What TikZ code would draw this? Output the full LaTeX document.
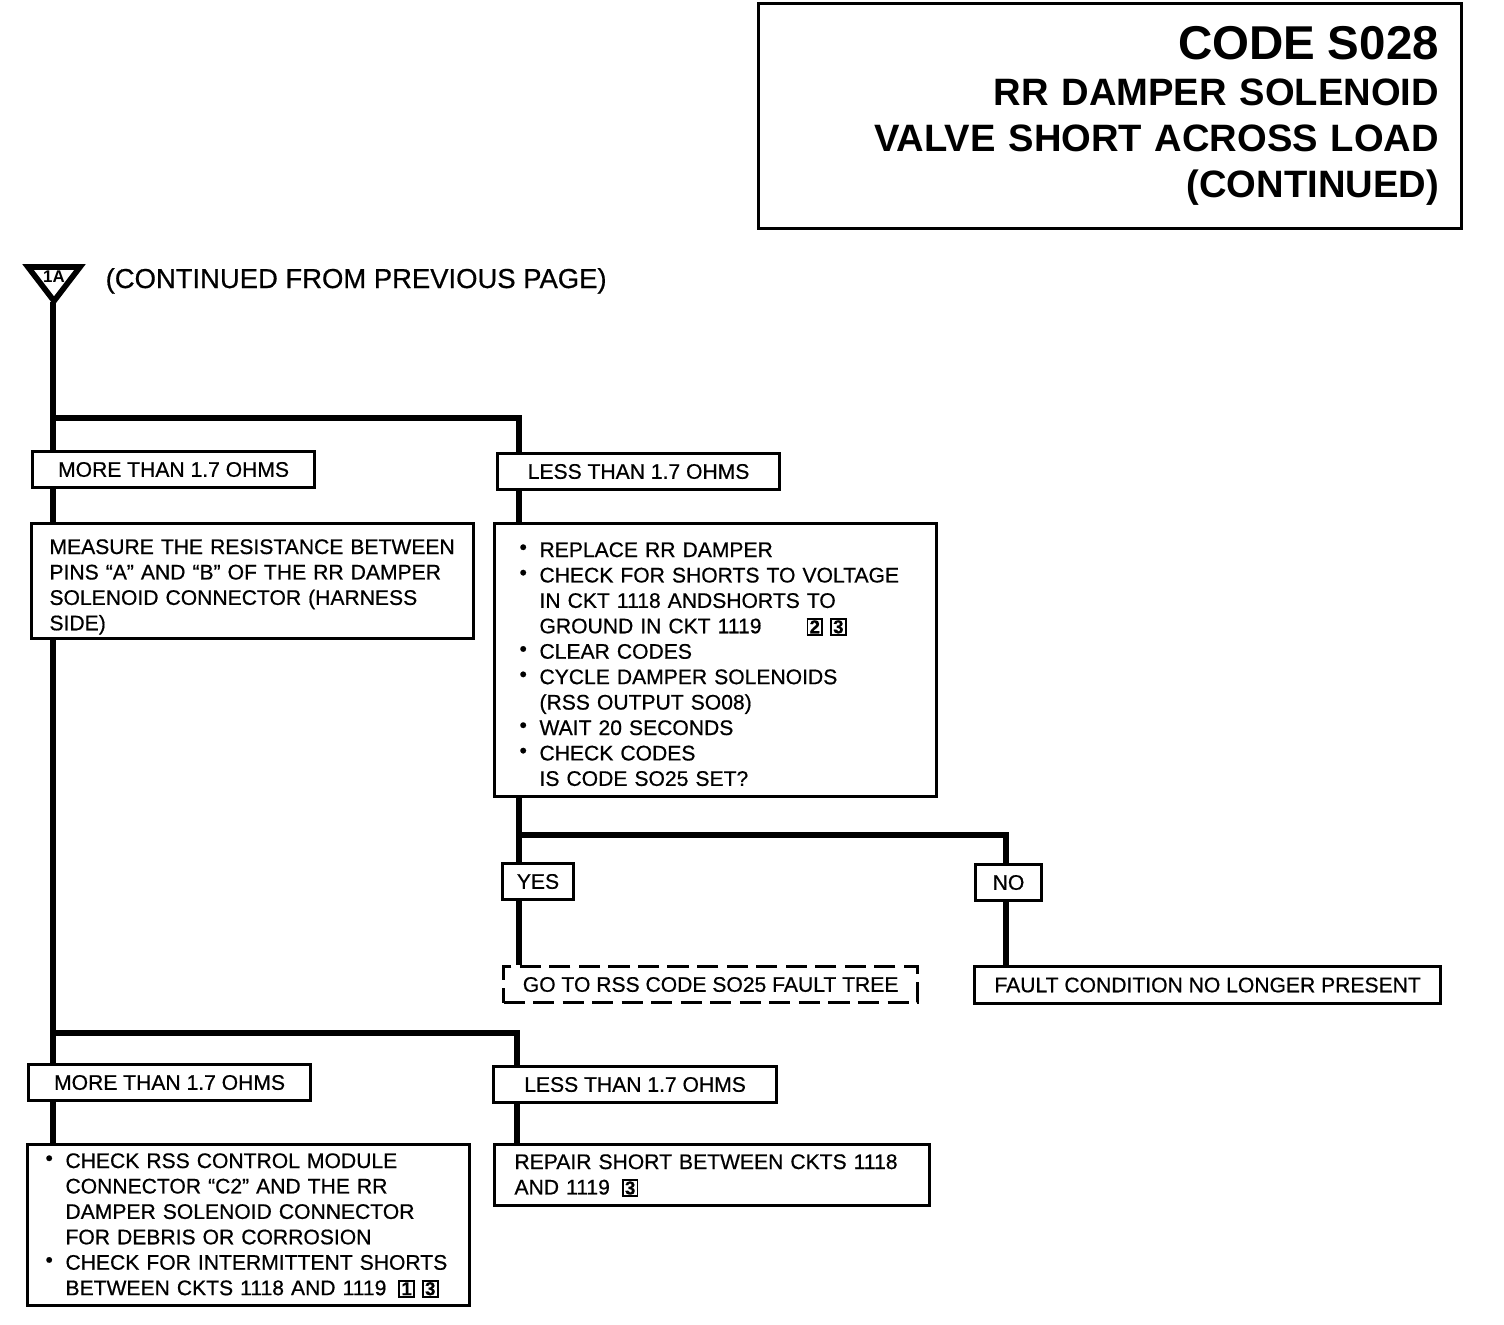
\documentclass[tikz,border=0pt]{standalone}
\usepackage{fontspec}
\setmainfont{Liberation Sans}
\newfontfamily\heavyfont[FakeBold=0.6]{Liberation Sans}
\usepackage{graphicx}
\usetikzlibrary{positioning, calc}
\newcommand\body{\heavyfont\fontsize{6pt}{7.23pt}\selectfont}
\newcommand\stepnum[1]{{\setlength{\fboxsep}{0.15pt}\setlength{\fboxrule}{0.55pt}\fbox{\makebox[3.3pt]{\fontsize{5.3pt}{5pt}\selectfont\bfseries #1}}}}
\newcommand\bul{\makebox[0.2cm][l]{\raisebox{0.25ex}{\textbullet}}}
\newcommand\cont{\hspace*{0.2cm}}
\tikzset{
  tag/.style={draw, line width=0.85pt, fill=white, anchor=north west, inner sep=0pt,
              minimum height=0.36cm, font=\body},
  box/.style={draw, line width=0.85pt, fill=white, anchor=north west, inner ysep=0pt,
              align=left, font=\body},
  flow/.style={line width=1.5pt}
}

\begin{document}
\begin{tikzpicture}[x=0.01cm, y=-0.01cm]
    \useasboundingbox (0,0) rectangle (1504,1324);
    \node[draw, line width=0.85pt, anchor=north west, minimum width=7.03cm, minimum height=2.25cm,
          text width=6.57cm, inner xsep=0.23cm, align=right,
          font=\fontsize{10.85pt}{13.1pt}\selectfont\bfseries] (title) at (757,2)
          {{\fontsize{13.5pt}{13.1pt}\selectfont CODE S028}\\
           RR DAMPER SOLENOID\\
           VALVE SHORT ACROSS LOAD\\
           (CONTINUED)};

    \draw[line width=1.6pt, fill=white] (28,267) -- (80,267) -- (54,301) -- cycle;
    \node[font=\fontsize{4.8pt}{5pt}\selectfont\bfseries, inner sep=0pt] (mark) at (54,277) {1A};
    \coordinate (tip) at (53,302);
    \node[anchor=base west, inner sep=0pt, font=\heavyfont\fontsize{7.8pt}{9pt}\selectfont] (prev) at (105,288)
          {(CONTINUED FROM PREVIOUS PAGE)};

    \node[tag, minimum width=2.82cm] (more1) at (31,450) {MORE THAN 1.7 OHMS};
    \node[tag, minimum width=2.82cm] (less1) at (496,452) {LESS THAN 1.7 OHMS};
    \node[box, text width=4.06cm, inner xsep=0.18cm, text height=0.305cm, text depth=0.845cm] (measure) at (30,522)
          {MEASURE THE RESISTANCE BETWEEN\\
           PINS “A” AND “B” OF THE RR DAMPER\\
           SOLENOID CONNECTOR (HARNESS\\
           SIDE)};
    \node[box, text width=3.92cm, inner xsep=0.25cm, text height=0.335cm, text depth=2.395cm] (replace) at (493,522)
          {\bul REPLACE RR DAMPER\\
           \bul CHECK FOR SHORTS TO VOLTAGE\\
           \cont IN CKT 1118 ANDSHORTS TO\\
           \cont GROUND IN CKT 1119\hspace{0.45cm}\stepnum{2}\hspace{2pt}\stepnum{3}\\
           \bul CLEAR CODES\\
           \bul CYCLE DAMPER SOLENOIDS\\
           \cont (RSS OUTPUT SO08)\\
           \bul WAIT 20 SECONDS\\
           \bul CHECK CODES\\
           \cont IS CODE SO25 SET?};
    \node[tag, minimum width=0.71cm] (yes) at (501,862) {YES};
    \node[tag, minimum width=0.66cm] (no) at (974,863) {NO};
    \node[tag, minimum width=4.14cm, dash pattern=on 6pt off 2.4pt] (goto) at (502,965)
          {GO TO RSS CODE SO25 FAULT TREE};
    \node[tag, minimum width=4.66cm, minimum height=0.37cm] (fault) at (973,965)
          {FAULT CONDITION NO LONGER PRESENT};
    \node[tag, minimum width=2.82cm] (more2) at (27,1063) {MORE THAN 1.7 OHMS};
    \node[tag, minimum width=2.83cm] (less2) at (492,1065) {LESS THAN 1.7 OHMS};
    \node[box, text width=4.06cm, inner xsep=0.18cm, text height=0.235cm, text depth=1.375cm] (check) at (26,1143)
          {\bul CHECK RSS CONTROL MODULE\\
           \cont CONNECTOR “C2” AND THE RR\\
           \cont DAMPER SOLENOID CONNECTOR\\
           \cont FOR DEBRIS OR CORROSION\\
           \bul CHECK FOR INTERMITTENT SHORTS\\
           \cont BETWEEN CKTS 1118 AND 1119\hspace{0.12cm}\stepnum{1}\hspace{2pt}\stepnum{3}};
    \node[box, text width=3.95cm, inner xsep=0.2cm, text height=0.245cm, text depth=0.365cm] (repair) at (493,1143)
          {REPAIR SHORT BETWEEN CKTS 1118\\
           AND 1119\hspace{0.12cm}\stepnum{3}};

    \coordinate (fork1) at (519,418);
    \coordinate (fork2) at (1006,835);
    \coordinate (fork3) at (517,1033);

    \draw[flow] (tip) -- (tip |- more1.north);
    \draw[flow] (tip |- more1.south) -- (tip |- measure.north);
    \draw[flow] (tip |- measure.south) -- (tip |- more2.north);
    \draw[flow] (tip |- more2.south) -- (tip |- check.north);
    \draw[flow] (tip |- fork1) -| (fork1 |- less1.north);
    \draw[flow] (fork1 |- less1.south) -- (fork1 |- replace.north);
    \draw[flow] (fork1 |- replace.south) -- (fork1 |- yes.north);
    \draw[flow] (fork1 |- fork2) -| (fork2 |- no.north);
    \draw[flow] (fork1 |- yes.south) -- (fork1 |- goto.north);
    \draw[flow] (fork2 |- no.south) -- (fork2 |- fault.north);
    \draw[flow] (tip |- fork3) -| (fork3 |- less2.north);
    \draw[flow] (fork3 |- less2.south) -- (fork3 |- repair.north);
\end{tikzpicture}
\end{document}
